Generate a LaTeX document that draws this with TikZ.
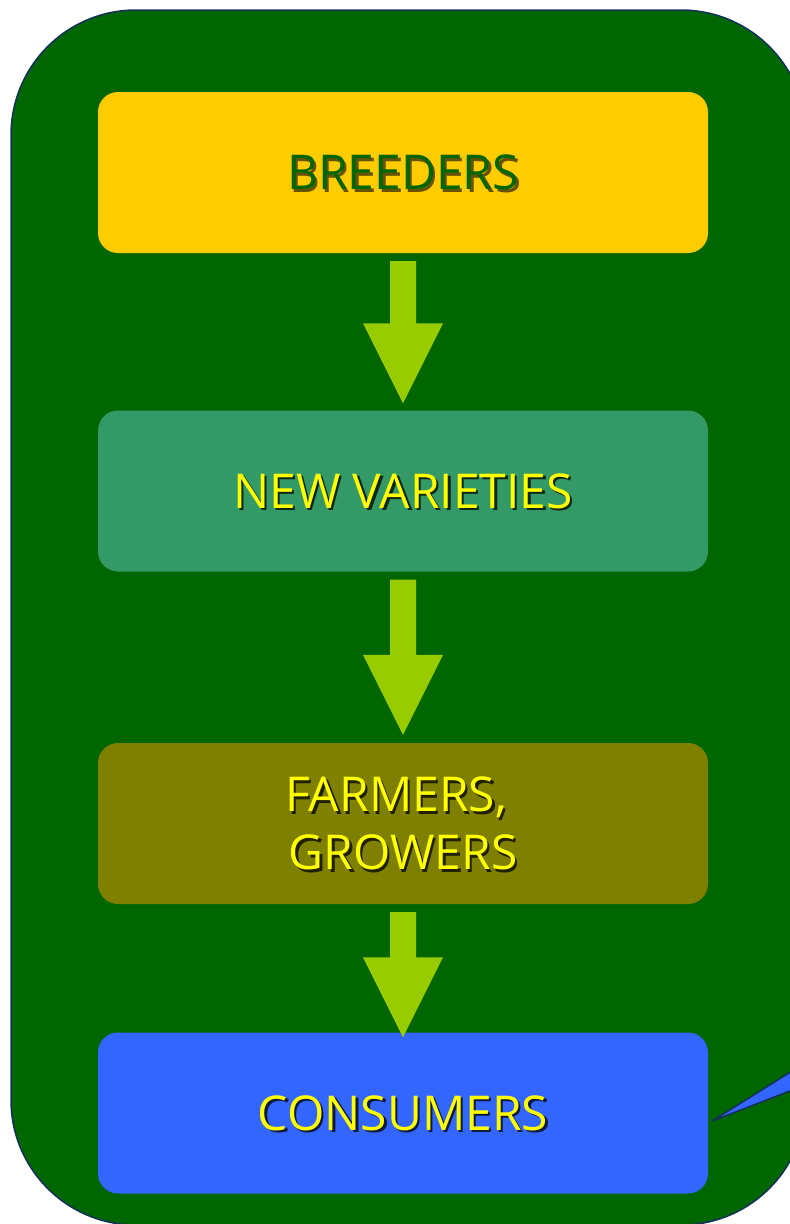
\documentclass[tikz,border=0pt]{standalone}
\usepackage{fontspec}
\setmainfont{Open Sans}
\usetikzlibrary{calc}
\definecolor{leafgreen}{HTML}{006600}
\definecolor{navyline}{HTML}{14305A}
\definecolor{breedyellow}{HTML}{FFCC00}
\definecolor{varteal}{HTML}{339966}
\definecolor{farmolive}{HTML}{808000}
\definecolor{consblue}{HTML}{3366FF}
\definecolor{arrowlime}{HTML}{99CC00}
\definecolor{textyellow}{HTML}{FFFF00}
\newcommand\dropped[2]{\makebox[0pt][l]{\hspace{2.5pt}\smash{\raisebox{-2.5pt}{\textcolor{#1}{#2}}}}#2}
% block arrow from one stage box to the next; #1 = gap left above the tip
\newcommand\blockarrow[3][7]{\path[fill=arrowlime] let \p1=(#2.south), \p2=(#3.north) in
	(\x1-13pt,\y1-8pt) -- (\x1+13pt,\y1-8pt) -- (\x1+13pt,\y2+#1pt+80pt) -- (\x1+40pt,\y2+#1pt+80pt)
	-- (\x1,\y2+#1pt) -- (\x1-40pt,\y2+#1pt+80pt) -- (\x1-13pt,\y2+#1pt+80pt) -- cycle;}

\begin{document}
\begin{tikzpicture}[x=1pt,y=-1pt,
		stagebox/.style={rounded corners=20pt, minimum width=610pt, minimum height=161pt,
			inner sep=0pt, align=center, font=\fontsize{48}{58}\selectfont},
		callout/.style={fill=consblue, draw=navyline, line width=1.5pt, line join=miter}]
			%%%%% START %%%%%
			\useasboundingbox (0,0) rectangle (790,1224);
			\clip (0,0) rectangle (790,1224);
			
			\draw[fill=leafgreen, draw=navyline, line width=1.5pt, rounded corners=125pt] (11,10) rectangle (806,1225);
			
			\node[stagebox, fill=breedyellow, text=leafgreen] (breeders) at (403,172.5)
				{\dropped{black!60!breedyellow}{BREEDERS}};
			\node[stagebox, fill=varteal, text=textyellow] (varieties) at (403,491)
				{\dropped{black!75!varteal}{NEW VARIETIES}};
			\node[stagebox, fill=farmolive, text=textyellow] (farmers) at (403,823.5)
				{\dropped{black!75!farmolive}{FARMERS,}\kern14pt\\\dropped{black!75!farmolive}{GROWERS}};
			\node[stagebox, fill=consblue, text=textyellow] (consumers) at (403,1113)
				{\dropped{black!75!consblue}{CONSUMERS}};
			
			\blockarrow{breeders}{varieties}
			\blockarrow[8]{varieties}{farmers}
			\blockarrow[-5]{farmers}{consumers}
			
			% pointer of a callout lying off the page
			\coordinate (tip) at ($(consumers.east)+(4,8)$);
			\draw[callout] (tip) -- (800,1066) -- (800,1087) -- cycle;
			%%%%% END %%%%%
\end{tikzpicture}
\end{document}
